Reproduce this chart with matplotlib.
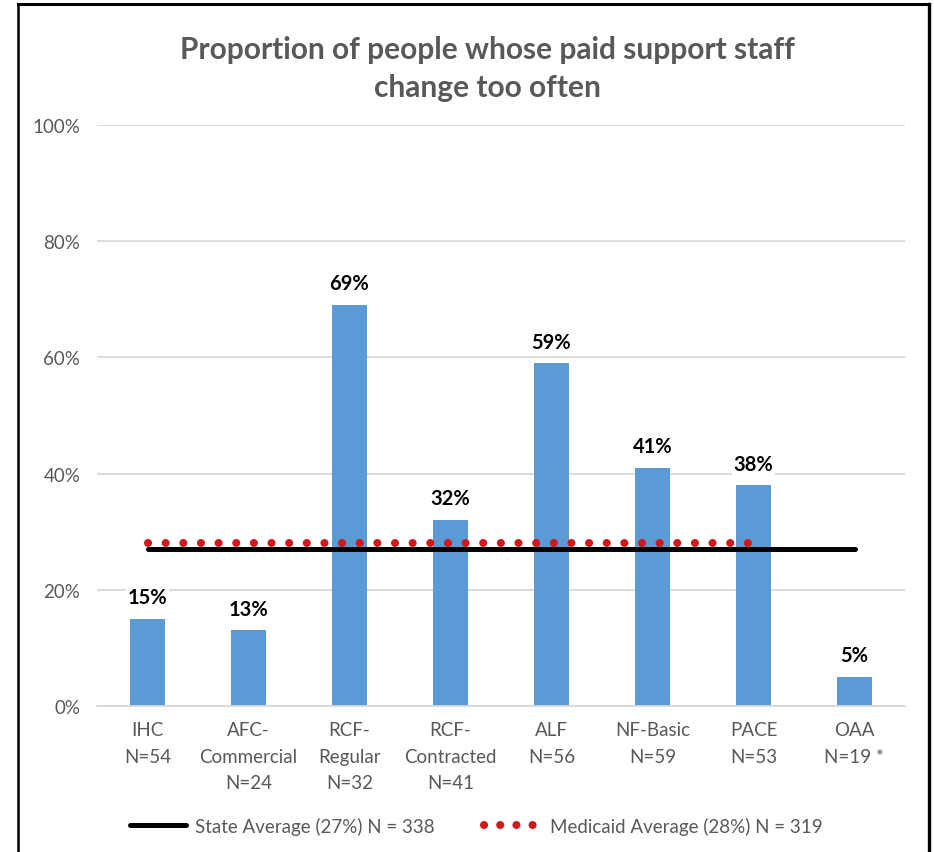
import matplotlib.pyplot as plt
from matplotlib.lines import Line2D
import numpy as np

plt.rcParams['font.family'] = ['Lato', 'DejaVu Sans']

# 数据
categories = ['IHC\nN=54', 'AFC-\nCommercial\nN=24', 'RCF-\nRegular\nN=32', 'RCF-\nContracted\nN=41',
              'ALF\nN=56', 'NF-Basic\nN=59', 'PACE\nN=53', 'OAA\nN=19 *']
values = [15, 13, 69, 32, 59, 41, 38, 5]
state_avg = 27
state_label = 'State Average (27%) N = 338'
medicaid_avg = 28
medicaid_label = 'Medicaid Average (28%) N = 319'
medicaid_last = 6  # 红点线画到 PACE 为止
yticks = [0, 20, 40, 60, 80, 100]

W, H = 934, 853
fig = plt.figure(figsize=(W / 100, H / 100), dpi=100)
ax = fig.add_axes([97 / W, 1 - 707 / H, (905 - 97) / W, (707 - 126) / H])

x = np.arange(len(categories))
ax.bar(x, values, width=0.34, color='#5B9BD5', zorder=2)

# 平均线
ax.plot([x[0], x[-1]], [state_avg, state_avg], color='black', lw=3.6,
        solid_capstyle='round', zorder=3, label=state_label)
ax.plot([x[0], x[medicaid_last]], [medicaid_avg, medicaid_avg], color='#D0191C', lw=5.8,
        linestyle=(0, (0.01, 2.18)), dash_capstyle='round', zorder=4, label=medicaid_label)

# 数据标签
for xi, v in zip(x, values):
    ax.text(xi, v + 2.0, f'{v}%', ha='center', va='bottom', fontsize=14.5, fontweight='bold',
            color='black', zorder=5,
            bbox=dict(facecolor='white', edgecolor='none', pad=1.5))

ax.set_xlim(-0.5, len(categories) - 0.5)
ax.set_ylim(0, 100)
ax.set_yticks(yticks)
ax.set_yticklabels([f'{t}%' for t in yticks], fontsize=13.5, color='#595959')
ax.set_xticks(x)
ax.set_xticklabels(categories, fontsize=13.5, color='#595959', linespacing=1.68, va='top')
ax.tick_params(length=0)
ax.tick_params(axis='y', pad=12)
ax.tick_params(axis='x', pad=11)
ax.grid(axis='y', color='#D9D9D9', lw=1.3, zorder=0)
for side in ['top', 'right', 'left']:
    ax.spines[side].set_visible(False)
ax.spines['bottom'].set_color('#D9D9D9')
ax.spines['bottom'].set_linewidth(1.3)

# 标题
fig.text(487 / W, 1 - 69 / H, 'Proportion of people whose paid support staff\nchange too often',
         ha='center', va='center', fontsize=21.5, fontweight='bold', color='#595959',
         linespacing=1.42)

# 图例
handles = [Line2D([], [], color='black', lw=3.6, solid_capstyle='round'),
           Line2D([], [], color='#D0191C', lw=5.8, linestyle=(0, (0.01, 2.0)),
                  dash_capstyle='round')]
fig.legend(handles, [state_label, medicaid_label], loc='center', ncol=2,
           bbox_to_anchor=(476 / W, 1 - 827 / H), frameon=False, fontsize=13.5,
           labelcolor='#595959', handlelength=3.0, handletextpad=0.5, columnspacing=2.6)

# 外框
fig.add_artist(Line2D([17.5 / W, 17.5 / W], [0, 1 - 5 / H], color='black', lw=1.8))
fig.add_artist(Line2D([17.5 / W, 928.5 / W], [1 - 5 / H, 1 - 5 / H], color='black', lw=2.2))
fig.add_artist(Line2D([928.5 / W, 928.5 / W], [0, 1 - 5 / H], color='black', lw=2.4))

fig.savefig('out.png', dpi=100)
